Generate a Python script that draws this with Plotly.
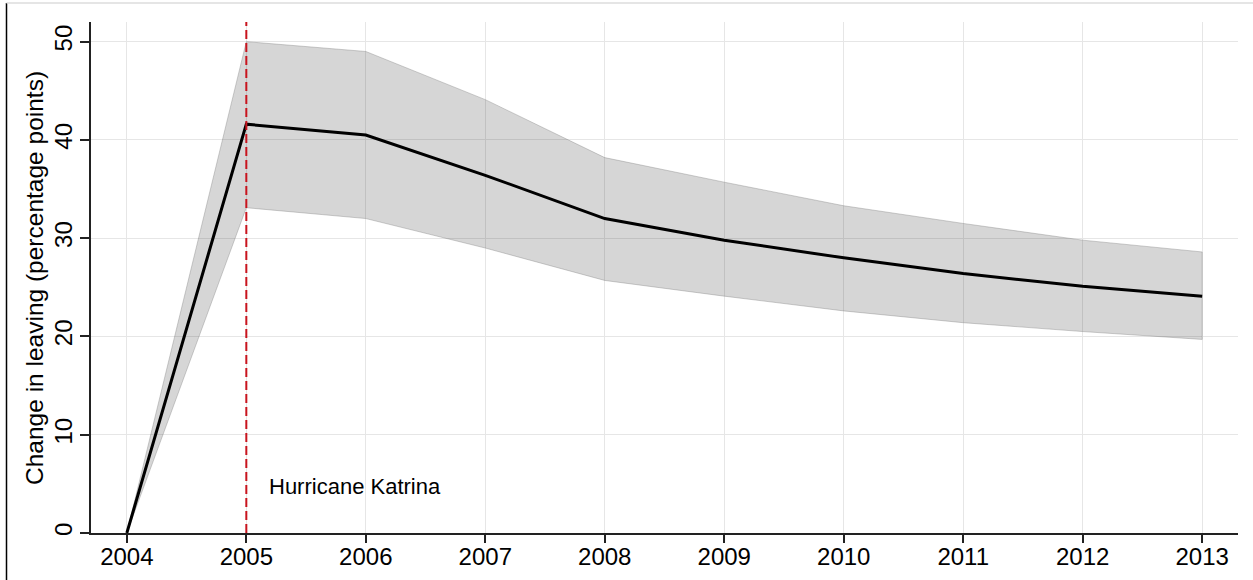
import plotly.graph_objects as go

# Event-study estimates: change in leaving (percentage points) by year
years = [2004, 2005, 2006, 2007, 2008, 2009, 2010, 2011, 2012, 2013]
estimate = [0.0, 41.6, 40.5, 36.4, 32.0, 29.8, 28.0, 26.4, 25.1, 24.1]
ci_upper = [0.0, 50.0, 49.0, 44.1, 38.2, 35.7, 33.3, 31.5, 29.8, 28.6]
ci_lower = [0.0, 33.1, 32.0, 29.0, 25.7, 24.1, 22.6, 21.4, 20.5, 19.7]

event_year = 2005
event_label = "Hurricane Katrina"
y_title = "Change in leaving (percentage points)"
y_ticks = [0, 10, 20, 30, 40, 50]

W, H = 1253, 580
ML, MR, MT, MB = 91, 15, 22, 47
FONT = "Liberation Sans, Arial, Helvetica, sans-serif"
pw = W - ML - MR
ph = H - MT - MB

fig = go.Figure()

# confidence band
fig.add_trace(go.Scatter(
    x=years + years[::-1],
    y=ci_upper + ci_lower[::-1],
    fill="toself",
    fillcolor="rgba(0,0,0,0.16)",
    line=dict(color="rgba(120,120,120,0.6)", width=0.6),
    mode="lines",
    hoverinfo="skip",
    showlegend=False,
))

# point estimates
fig.add_trace(go.Scatter(
    x=years, y=estimate,
    mode="lines",
    line=dict(color="black", width=3),
    showlegend=False,
))

# event marker
fig.add_shape(type="line", xref="x", yref="paper",
              x0=event_year, x1=event_year, y0=0, y1=1,
              line=dict(color="#c8141e", width=2, dash="9px,4px"))

fig.add_annotation(x=event_year + 0.17, y=4.7, xref="x", yref="y",
                   text=event_label, showarrow=False,
                   xanchor="left", yanchor="middle",
                   font=dict(family=FONT, size=22, color="black"))

# y-axis title placed as rotated text left of the tick labels
fig.add_annotation(x=(34 - ML) / pw, y=(H - MB - 278) / ph,
                   xref="paper", yref="paper",
                   text=y_title, textangle=-90, showarrow=False,
                   xanchor="center", yanchor="middle",
                   font=dict(family=FONT, size=24.5, color="black"))

# outer frame edges
fig.add_shape(type="line", xref="paper", yref="paper",
              x0=(6.5 - ML) / pw, x1=(6.5 - ML) / pw,
              y0=(H - MB - 3) / ph, y1=(H - MB - H - 5) / ph,
              line=dict(color="black", width=1.5))
fig.add_shape(type="line", xref="paper", yref="paper",
              x0=(6.5 - ML) / pw, x1=(W + 5 - ML) / pw,
              y0=(H - MB - 3) / ph, y1=(H - MB - 3) / ph,
              line=dict(color="#dcdcdc", width=1.5))

fig.update_layout(
    width=W, height=H,
    margin=dict(l=ML, r=MR, t=MT, b=MB),
    paper_bgcolor="white", plot_bgcolor="white",
    font=dict(family=FONT, color="black"),
    showlegend=False,
    xaxis=dict(
        range=[2003.7, 2013.3],
        tickmode="array", tickvals=years, ticktext=[str(y) for y in years],
        ticks="outside", ticklen=8, tickwidth=1.5, tickcolor="#222",
        tickfont=dict(size=24), ticklabelstandoff=-7,
        showline=True, linecolor="#222", linewidth=1.5,
        showgrid=True, gridcolor="#e6e6e6", gridwidth=1,
        zeroline=False, automargin=False,
    ),
    yaxis=dict(
        range=[0, 52],
        tickmode="array", tickvals=y_ticks,
        ticks="outside", ticklen=9, tickwidth=1.5, tickcolor="#222",
        tickfont=dict(size=24), tickangle=-90, ticklabelstandoff=-1,
        showline=True, linecolor="#222", linewidth=1.5,
        showgrid=True, gridcolor="#e6e6e6", gridwidth=1,
        zeroline=False, automargin=False,
    ),
)

fig.write_html("out.html")
